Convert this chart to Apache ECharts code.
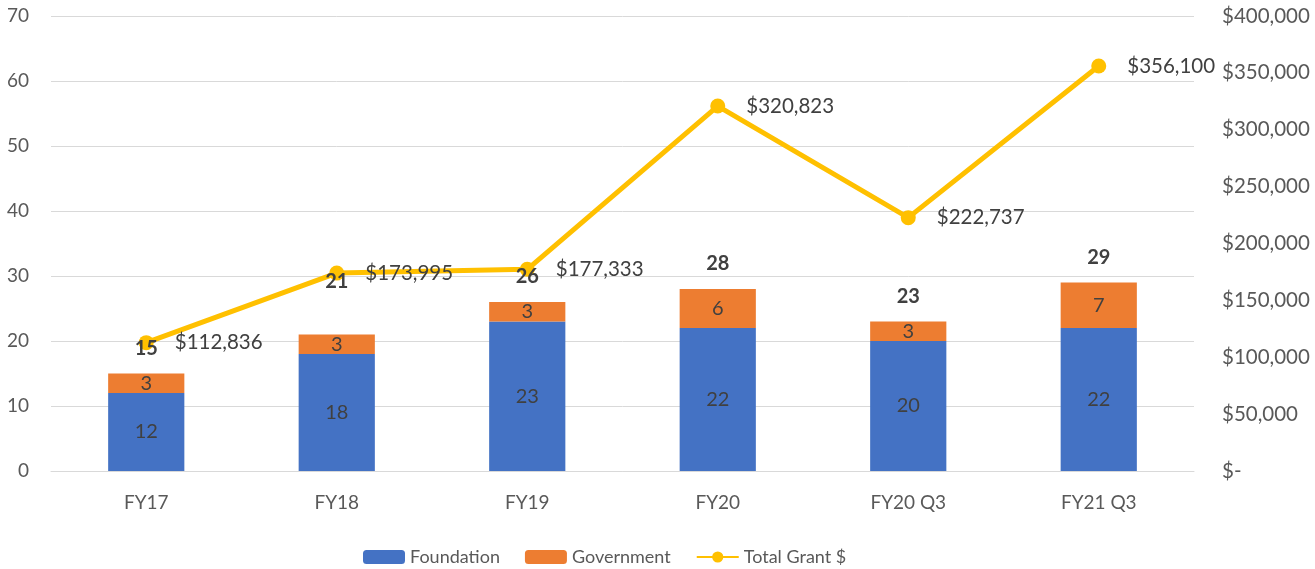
<!DOCTYPE html>
<html>
<head>
<meta charset="utf-8">
<script src="https://cdn.jsdelivr.net/npm/echarts@6/dist/echarts.min.js"></script>
<style>html,body{margin:0;padding:0;background:#fff}#c{width:1315px;height:569px}</style>
</head>
<body>
<div id="c"></div>
<script>
const categories = ['FY17', 'FY18', 'FY19', 'FY20', 'FY20 Q3', 'FY21 Q3'];
const foundation = [12, 18, 23, 22, 20, 22];
const government = [3, 3, 3, 6, 3, 7];
const totals = [15, 21, 26, 28, 23, 29];
const totalGrant = [112836, 173995, 177333, 320823, 222737, 356100];

const FONT = 'Lato, "Open Sans", sans-serif';
const chart = echarts.init(document.getElementById('c'));
const fmtMoney = v => '$' + v.toLocaleString('en-US');

chart.setOption({
  animation: false,
  textStyle: { fontFamily: FONT },
  grid: { left: 51, right: 121, top: 16, bottom: 98 },
  legend: {
    bottom: -2,
    left: 358,
    data: ['Foundation', 'Government', 'Total Grant $'],
    itemWidth: 42, itemHeight: 14, itemGap: 25,
    textStyle: { fontFamily: FONT, fontSize: 18, color: '#595959' }
  },
  xAxis: {
    type: 'category',
    data: categories,
    axisTick: { show: false },
    axisLine: { lineStyle: { color: '#d9d9d9', width: 1 } },
    axisLabel: { fontFamily: FONT, fontSize: 19, color: '#595959', margin: 22 }
  },
  yAxis: [
    {
      type: 'value', min: 0, max: 70, interval: 10,
      axisLabel: { fontFamily: FONT, fontSize: 19, color: '#595959', margin: 22 },
      splitLine: { lineStyle: { color: '#d9d9d9', width: 1 } },
      axisLine: { show: false }, axisTick: { show: false }
    },
    {
      type: 'value', min: 0, max: 400000, interval: 50000,
      axisLabel: {
        fontFamily: FONT, fontSize: 20.5, color: '#595959', margin: 28,
        formatter: v => v === 0 ? '$-' : fmtMoney(v)
      },
      splitLine: { show: false },
      axisLine: { show: false }, axisTick: { show: false }
    }
  ],
  series: [
    {
      name: 'Foundation', type: 'bar', stack: 'a', barWidth: '40%',
      data: foundation,
      itemStyle: { color: '#4472C4' },
      label: { show: true, position: 'inside', fontFamily: FONT, fontSize: 20, color: '#404040' }
    },
    {
      name: 'Government', type: 'bar', stack: 'a',
      data: government,
      itemStyle: { color: '#ED7D31' },
      label: { show: true, position: 'inside', fontFamily: FONT, fontSize: 20, color: '#404040' }
    },
    {
      name: 'Total', type: 'bar', stack: 'a',
      data: totals.map((t, i) => ({
        value: 0,
        label: i === 1 ? { offset: [0, -28] } : {}
      })),
      itemStyle: { color: 'transparent' },
      z: 5,
      label: {
        show: true, position: 'top', distance: 15,
        fontFamily: FONT, fontSize: 20, fontWeight: 'bold', color: '#404040',
        formatter: p => String(totals[p.dataIndex])
      }
    },
    {
      name: 'Total Grant $', type: 'line', yAxisIndex: 1,
      data: totalGrant,
      symbol: 'circle', symbolSize: 15,
      lineStyle: { color: '#FFC000', width: 5 },
      itemStyle: { color: '#FFC000' },
      z: 3,
      label: {
        show: true, position: 'right', distance: 21,
        fontFamily: FONT, fontSize: 20.5, color: '#404040',
        formatter: p => fmtMoney(p.value)
      }
    }
  ]
});
</script>
</body>
</html>
